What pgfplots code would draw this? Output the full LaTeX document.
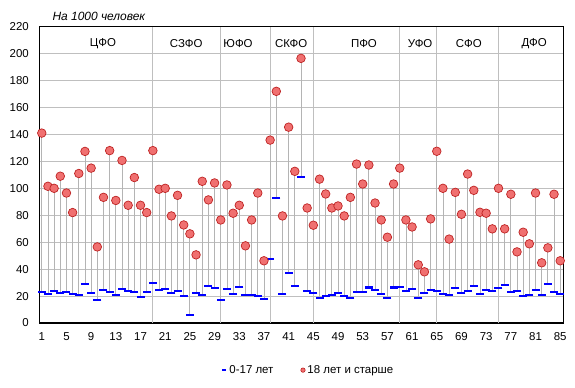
\documentclass[border=0pt]{standalone}
\usepackage{fontspec}
\setmainfont{Liberation Sans}
\usepackage{pgfplots}
\pgfplotsset{compat=1.18}
\usepackage{pgfplotstable}
\definecolor{gridc}{RGB}{191,191,191}
\definecolor{dropc}{RGB}{180,180,180}
\definecolor{dotfill}{RGB}{240,112,112}
\definecolor{dotedge}{RGB}{190,35,35}

\pgfplotstableread{
x a c
1 141 23
2 101.5 21.7
3 100 23.7
4 109 22.5
5 96.5 23
6 82 21.7
7 111 21
8 127.4 29
9 115 22.5
10 56.5 17
11 93.3 24.4
12 128 23
13 91 21
14 120.7 25.2
15 87.4 23.7
16 108 23
17 87.4 19.3
18 82 23
19 128 29.9
20 99.3 24.4
21 100 25.2
22 79.5 22.5
23 94.8 23.7
24 72.8 20
25 66.2 5.9
26 50.6 22.5
27 105.2 21
28 91.4 27.7
29 104 26.2
30 76.5 17
31 102.5 25.2
32 81.5 21.5
33 87.4 26.9
34 57.3 21
35 76.5 21
36 96.5 20.2
37 46.2 18
38 135.8 47.6
39 172 92.8
40 79.5 21.7
41 145.4 37.3
42 112.6 27.7
43 196.5 108.4
44 85.4 24
45 72.6 22.5
46 106.8 18.8
47 95.8 20.2
48 85.4 21
49 86.9 22.5
50 79.5 20.2
51 93.3 18.8
52 118 23.2
53 103.2 23.2
54 117.3 26.4
55 89.1 24.7
56 76.5 21.7
57 63.7 18.8
58 103.2 26.4
59 115 27
60 76.5 24
61 71.3 25.4
62 43.2 18.8
63 38 22.5
64 77.3 24.7
65 127.5 24
66 100 21.7
67 62.3 21
68 97 26.2
69 80.7 22.5
70 110.6 23.7
71 98.5 27.7
72 82.2 21.7
73 81.5 24.4
74 69.9 23.7
75 100 26.2
76 69.9 28.4
77 95.6 23
78 52.8 23.7
79 67.4 20.2
80 58.8 21
81 96.5 24.7
82 44.7 21
83 55.8 29.1
84 95.6 23
85 46.2 21.7
}\data

\begin{document}
\begin{tikzpicture}
\path[use as bounding box] (0,0) rectangle (575bp,388bp);
\begin{axis}[
  at={(39.3bp,65bp)}, anchor=south west,
  scale only axis, width=524bp, height=296.3bp,
  xmin=0.6, xmax=85.5, ymin=0, ymax=220,
  xtick={1,5,...,85}, ytick={0,20,...,220},
  extra x ticks={19,30,38,45,59,65,75}, extra x tick labels={},
  extra x tick style={grid=major},
  ymajorgrids, major grid style={gridc, line width=0.8bp},
  major tick length=0pt,
  axis line style={black, line width=1.3bp},
  ticklabel style={font=\fontsize{11.5}{13}\selectfont},
  /pgf/number format/assume math mode=true,
  yticklabel style={xshift=-7bp},
  xticklabel style={yshift=-6bp},
  clip=false,
  legend style={at={(0.513,-0.159)}, anchor=center, draw=none, fill=none,
    legend columns=2, font=\fontsize{11.5}{13}\selectfont,
    /tikz/every even column/.append style={column sep=25bp}},
]
\addplot[forget plot, draw=none, mark=none,
  error bars/.cd, y dir=minus, y explicit, error mark=none,
  error bar style={dropc, line width=0.8bp}]
  table[x=x, y=a, y error expr=\thisrow{a}-\thisrow{c}] {\data};
\addplot[only marks, mark=-, mark size=4bp, mark options={blue, line width=2.2bp},
  legend image code/.code={\draw[blue, line width=2.5bp] (0bp,0bp) -- (4bp,0bp);}]
  table[x=x, y=c] {\data};
\addlegendentry{0-17 лет}
\addplot[only marks, mark=*, mark size=4.3bp,
  mark options={draw=dotedge, fill=dotfill, line width=0.7bp},
  legend image code/.code={\draw[dotedge, fill=dotfill, line width=0.6bp] (2bp,0bp) circle (2.2bp);}]
  table[x=x, y=a] {\data};
\addlegendentry{18 лет и старше}
\node[font=\fontsize{11.5}{13}\selectfont] at (axis cs:10.9,207.4) {ЦФО};
\node[font=\fontsize{11.5}{13}\selectfont] at (axis cs:24.4,207.4) {СЗФО};
\node[font=\fontsize{11.5}{13}\selectfont] at (axis cs:32.8,207.4) {ЮФО};
\node[font=\fontsize{11.5}{13}\selectfont] at (axis cs:41.4,207.4) {СКФО};
\node[font=\fontsize{11.5}{13}\selectfont] at (axis cs:53.2,207.4) {ПФО};
\node[font=\fontsize{11.5}{13}\selectfont] at (axis cs:62.3,207.4) {УФО};
\node[font=\fontsize{11.5}{13}\selectfont] at (axis cs:70.2,207.4) {СФО};
\node[font=\fontsize{11.5}{13}\selectfont] at (axis cs:80.8,207.4) {ДФО};
\end{axis}
\node[anchor=west, font=\itshape\fontsize{12}{14}\selectfont] at (49bp,372bp) {На 1000 человек};
\end{tikzpicture}
\end{document}
